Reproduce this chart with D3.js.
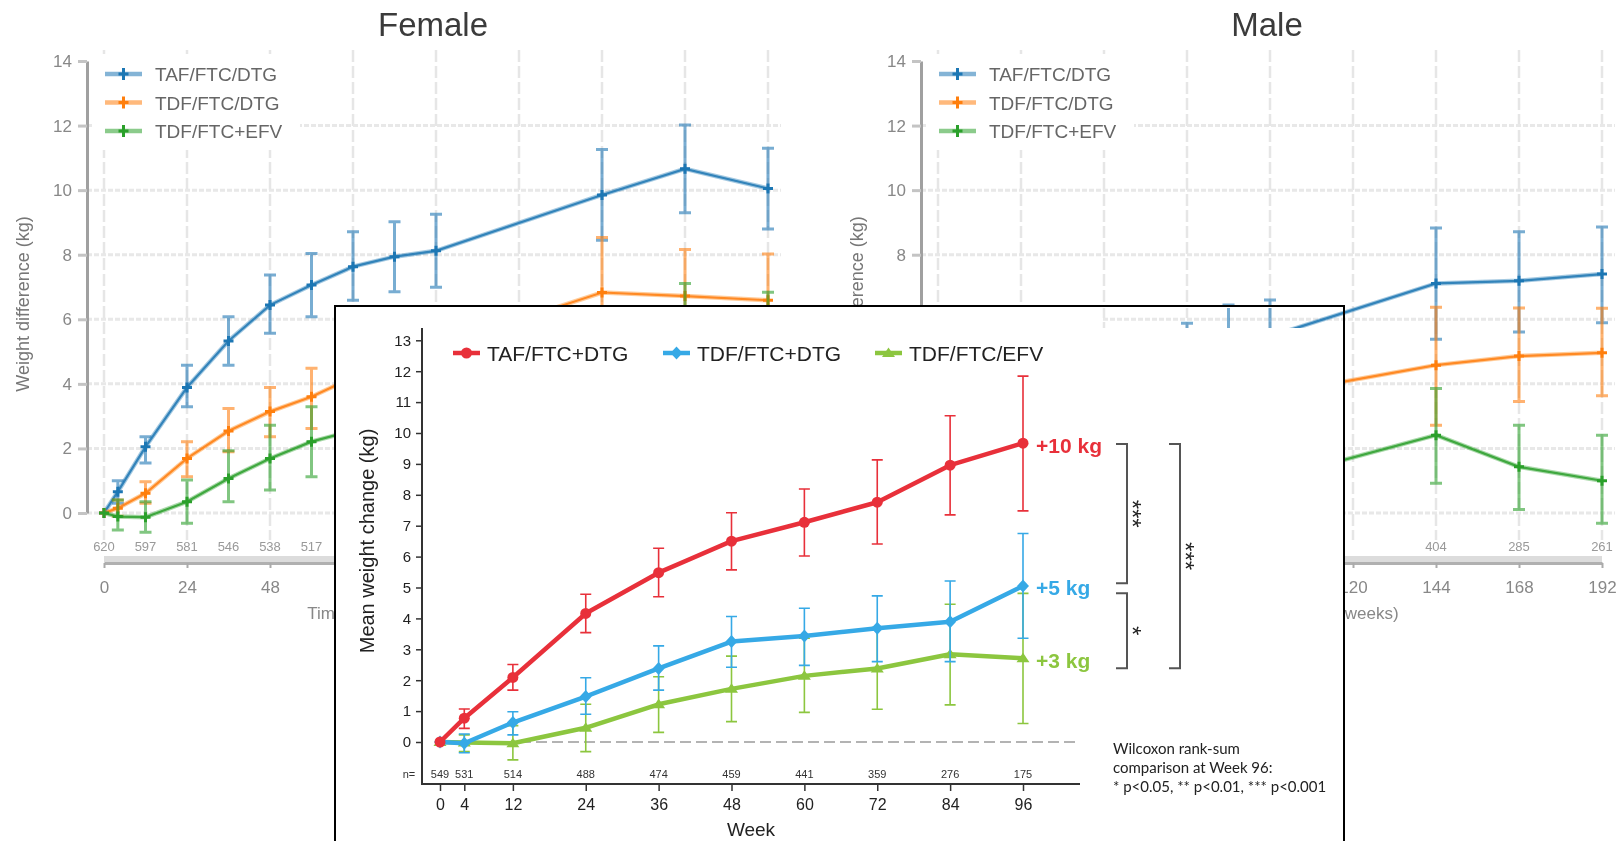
<!DOCTYPE html>
<html>
<head>
<meta charset="utf-8">
<script src="https://cdn.jsdelivr.net/npm/d3@7"></script>
<style>
body { margin: 0; background: #fff; }
svg { display: block; }
</style>
</head>
<body>
<div id="chart"></div>
<script>
// ---- background panels (Female / Male), weeks on treatment ----
var bgWeeks = [0, 4, 12, 24, 36, 48, 60, 72, 84, 96, 144, 168, 192];
var bgTicks = [0, 24, 48, 72, 96, 120, 144, 168, 192];
var bgYTicks = [0, 2, 4, 6, 8, 10, 12, 14];
var bgNWeeks = [0, 12, 24, 36, 48, 60, 72, 84, 96, 144, 168, 192];
var femaleN = [620, 597, 581, 546, 538, 517, 497, 480, 468, 420, 390, 370];
var maleN = [433, 425, 420, 415, 412, 410, 408, 406, 405, 404, 285, 261];
var bgNames = ["TAF/FTC/DTG", "TDF/FTC/DTG", "TDF/FTC+EFV"];
var bgColors = ["#1f77b4", "#ff7f0e", "#2ca02c"];

var femaleTaf   = [0, 0.66, 2.05, 3.89, 5.33, 6.44, 7.06, 7.63, 7.94, 8.12, 9.85, 10.66, 10.05];
var femaleTafLo = [0, 0.30, 1.55, 3.29, 4.58, 5.57, 6.08, 6.59, 6.85, 6.99, 8.45, 9.30, 8.80];
var femaleTafHi = [0, 1.00, 2.36, 4.58, 6.08, 7.37, 8.04, 8.71, 9.02, 9.25, 11.26, 12.02, 11.30];
var femaleTdf   = [0, 0.15, 0.61, 1.69, 2.54, 3.14, 3.60, 4.20, 4.70, 5.15, 6.83, 6.72, 6.59];
var femaleTdfLo = [0, -0.10, 0.30, 1.12, 1.90, 2.36, 2.62, 3.10, 3.50, 3.80, 5.10, 5.25, 5.15];
var femaleTdfHi = [0, 0.40, 0.97, 2.21, 3.24, 3.89, 4.48, 5.30, 5.80, 6.20, 8.53, 8.16, 8.02];
var femaleEfv   = [0, -0.11, -0.13, 0.35, 1.07, 1.69, 2.21, 2.55, 2.85, 3.10, 4.90, 5.60, 5.30];
var femaleEfvLo = [0, -0.53, -0.60, -0.32, 0.35, 0.71, 1.12, 1.40, 1.60, 1.80, 3.40, 4.10, 3.80];
var femaleEfvHi = [0, 0.40, 0.35, 1.02, 1.93, 2.72, 3.29, 3.70, 4.10, 4.40, 6.30, 7.11, 6.84];

var maleTaf   = [0, 0.55, 1.40, 2.50, 3.40, 4.00, 4.45, 4.85, 5.30, 5.47, 7.11, 7.19, 7.40];
var maleTafLo = [0, 0.25, 1.00, 2.00, 2.70, 3.10, 3.40, 3.80, 4.15, 4.35, 5.38, 5.61, 5.89];
var maleTafHi = [0, 0.85, 1.80, 3.00, 4.10, 4.90, 5.50, 5.88, 6.44, 6.60, 8.83, 8.71, 8.86];
var maleTdf   = [0, 0.30, 0.90, 1.60, 2.20, 2.60, 2.90, 3.20, 3.45, 3.66, 4.58, 4.86, 4.96];
var maleTdfLo = [0, 0.00, 0.50, 1.10, 1.60, 1.90, 2.10, 2.30, 2.50, 2.60, 2.72, 3.45, 3.63];
var maleTdfHi = [0, 0.60, 1.30, 2.10, 2.80, 3.30, 3.70, 4.10, 4.40, 4.70, 6.37, 6.35, 6.34];
var maleEfv   = [0, -0.10, 0.00, 0.30, 0.60, 0.80, 0.95, 1.00, 1.05, 1.03, 2.41, 1.43, 1.00];
var maleEfvLo = [0, -0.50, -0.50, -0.30, -0.10, 0.00, 0.10, 0.00, 0.00, -0.10, 0.92, 0.11, -0.32];
var maleEfvHi = [0, 0.30, 0.50, 0.90, 1.30, 1.60, 1.80, 2.00, 2.10, 2.20, 3.86, 2.72, 2.41];

// ---- front panel ----
var weeks = [0, 4, 12, 24, 36, 48, 60, 72, 84, 96];
var nAtRisk = [549, 531, 514, 488, 474, 459, 441, 359, 276, 175];
var yTicks = [0, 1, 2, 3, 4, 5, 6, 7, 8, 9, 10, 11, 12, 13];
var names = ["TAF/FTC+DTG", "TDF/FTC+DTG", "TDF/FTC/EFV"];
var colors = ["#e8303a", "#36a9e6", "#8cc63f"];
var endLabels = ["+10 kg", "+5 kg", "+3 kg"];

var tafDtg   = [0, 0.77, 2.09, 4.16, 5.48, 6.50, 7.11, 7.76, 8.96, 9.67];
var tafDtgLo = [0, 0.44, 1.68, 3.54, 4.70, 5.57, 6.02, 6.41, 7.35, 7.48];
var tafDtgHi = [0, 1.07, 2.51, 4.78, 6.27, 7.42, 8.19, 9.13, 10.56, 11.84];
var tdfDtg   = [0, -0.04, 0.63, 1.47, 2.38, 3.25, 3.43, 3.68, 3.89, 5.05];
var tdfDtgLo = [0, -0.35, 0.23, 0.90, 1.68, 2.42, 2.48, 2.60, 2.60, 3.36];
var tdfDtgHi = [0, 0.26, 0.98, 2.08, 3.11, 4.06, 4.33, 4.73, 5.21, 6.75];
var tdfEfv   = [0, -0.02, -0.04, 0.46, 1.22, 1.72, 2.14, 2.38, 2.84, 2.71];
var tdfEfvLo = [0, -0.31, -0.58, -0.31, 0.31, 0.66, 0.96, 1.06, 1.20, 0.60];
var tdfEfvHi = [0, 0.23, 0.53, 1.22, 2.11, 2.78, 3.36, 3.70, 4.46, 4.81];

// significance brackets at week 96: [top value, bottom value, label, x]
var brackets = [[9.64, 5.14, "***", 1127], [4.81, 2.39, "*", 1127], [9.64, 2.39, "***", 1180]];

var svg = d3.select("#chart").append("svg")
    .attr("width", 1616).attr("height", 841)
    .style("font-family", "'Liberation Sans', Arial, sans-serif");

svg.append("defs").append("filter").attr("id", "soft")
    .append("feGaussianBlur").attr("stdDeviation", 0.6);

function pack(x, v, lo, hi) {
    return x.map(function(d, i) { return {w: d, v: v[i], lo: lo[i], hi: hi[i]}; });
}

// draws one of the blurry background charts, dx shifts it right
function bgPanel(dx, title, series, nVals) {
    var g = svg.append("g").attr("filter", "url(#soft)");
    var x = d3.scaleLinear().domain([0, 192]).range([104 + dx, 768 + dx]);
    var y = d3.scaleLinear().domain([0, 14]).range([513, 61]);

    g.selectAll(".vg").data(bgTicks).enter().append("line")
        .attr("x1", function(d) { return x(d); }).attr("x2", function(d) { return x(d); })
        .attr("y1", 50).attr("y2", 540)
        .attr("stroke", "#e6e6e6").attr("stroke-width", 2.5).attr("stroke-dasharray", "12,4");
    g.selectAll(".hg").data(bgYTicks.slice(0, 7)).enter().append("line")
        .attr("x1", 87 + dx).attr("x2", 781 + dx)
        .attr("y1", function(d) { return y(d); }).attr("y2", function(d) { return y(d); })
        .attr("stroke", "#e8e8e8").attr("stroke-width", 3).attr("stroke-dasharray", "5,2");

    // legend box hides the grid
    g.append("rect").attr("x", 92 + dx).attr("y", 54).attr("width", 208).attr("height", 96).attr("fill", "#fff");

    var yAxis = g.append("g").attr("transform", "translate(" + (87 + dx) + ",0)")
        .call(d3.axisLeft(y).tickValues(bgYTicks).tickSize(9).tickSizeOuter(0).tickPadding(6));
    yAxis.select(".domain").attr("stroke", "#a0a0a0").attr("stroke-width", 3);
    yAxis.selectAll(".tick line").attr("stroke", "#c4c4c4").attr("stroke-width", 3);
    yAxis.selectAll("text").attr("fill", "#888").attr("font-size", 17).attr("font-family", null);

    g.append("rect").attr("x", x(0)).attr("y", 556).attr("width", x(192) - x(0)).attr("height", 6).attr("fill", "#dcdcdc");
    var xAxis = g.append("g").attr("transform", "translate(0,563)")
        .call(d3.axisBottom(x).tickValues(bgTicks).tickSize(5).tickSizeOuter(0).tickPadding(13));
    xAxis.select(".domain").attr("stroke", "#b0b0b0").attr("stroke-width", 3);
    xAxis.selectAll(".tick line").attr("stroke", "#aaa").attr("stroke-width", 2);
    xAxis.selectAll("text").attr("fill", "#888").attr("font-size", 17).attr("font-family", null);

    g.selectAll(".nr").data(bgNWeeks).enter().append("text")
        .attr("x", function(d) { return x(d); }).attr("y", 551)
        .attr("text-anchor", "middle").attr("font-size", 13).attr("fill", "#999")
        .text(function(d, i) { return nVals[i]; });

    var line = d3.line().x(function(d) { return x(d.w); }).y(function(d) { return y(d.v); });
    series.forEach(function(s, k) {
        var c = bgColors[k];
        var sg = g.append("g");
        sg.append("path").datum(s).attr("d", line).attr("fill", "none")
            .attr("stroke", c).attr("stroke-width", 4.5).attr("stroke-opacity", 0.4);
        sg.append("path").datum(s).attr("d", line).attr("fill", "none")
            .attr("stroke", c).attr("stroke-width", 2.2).attr("stroke-opacity", 0.85);
        var eb = sg.selectAll(".eb").data(s.filter(function(d) { return d.w > 0; })).enter().append("g");
        eb.append("path")
            .attr("d", function(d) {
                var cx = x(d.w);
                return "M" + cx + "," + y(d.hi) + "V" + y(d.lo) +
                    "M" + (cx - 6) + "," + y(d.hi) + "H" + (cx + 6) +
                    "M" + (cx - 6) + "," + y(d.lo) + "H" + (cx + 6);
            })
            .attr("fill", "none").attr("stroke", c).attr("stroke-width", 3).attr("stroke-opacity", 0.6);
        sg.selectAll(".mk").data(s).enter().append("path")
            .attr("transform", function(d) { return "translate(" + x(d.w) + "," + y(d.v) + ")"; })
            .attr("d", "M-5,0H5M0,-5V5").attr("stroke", c).attr("stroke-width", 3);
    });

    bgNames.forEach(function(n, i) {
        var ly = 74 + 28.5 * i;
        g.append("line").attr("x1", 105 + dx).attr("x2", 142 + dx).attr("y1", ly).attr("y2", ly)
            .attr("stroke", bgColors[i]).attr("stroke-width", 4.5).attr("stroke-opacity", 0.55);
        g.append("path").attr("transform", "translate(" + (123.5 + dx) + "," + ly + ")")
            .attr("d", "M-5,0H5M0,-6V6").attr("stroke", bgColors[i]).attr("stroke-width", 3);
        g.append("text").attr("x", 155 + dx).attr("y", ly + 7).attr("font-size", 19).attr("fill", "#666").text(n);
    });

    g.append("text").attr("x", 433 + dx).attr("y", 36).attr("text-anchor", "middle")
        .attr("font-size", 33).attr("fill", "#3a3a3a").text(title);
    g.append("text").attr("transform", "translate(" + (29 + dx) + ",304) rotate(-90)")
        .attr("text-anchor", "middle").attr("font-size", 18).attr("fill", "#777")
        .text("Weight difference (kg)");
    g.append("text").attr("x", 436 + dx).attr("y", 619).attr("text-anchor", "middle")
        .attr("font-size", 17).attr("fill", "#888").text("Time since randomisation (weeks)");
}

bgPanel(0, "Female", [
    pack(bgWeeks, femaleTaf, femaleTafLo, femaleTafHi),
    pack(bgWeeks, femaleTdf, femaleTdfLo, femaleTdfHi),
    pack(bgWeeks, femaleEfv, femaleEfvLo, femaleEfvHi)], femaleN);
bgPanel(834, "Male", [
    pack(bgWeeks, maleTaf, maleTafLo, maleTafHi),
    pack(bgWeeks, maleTdf, maleTdfLo, maleTdfHi),
    pack(bgWeeks, maleEfv, maleEfvLo, maleEfvHi)], maleN);

// ---- front panel, white card with a small gap at top right ----
var fg = svg.append("g");
fg.append("path").attr("d", "M335,306H1344V860H335Z M1102,308V328H1343V308Z")
    .attr("fill", "#fff").attr("fill-rule", "evenodd");
fg.append("rect").attr("x", 335).attr("y", 306).attr("width", 1009).attr("height", 560)
    .attr("fill", "none").attr("stroke", "#000").attr("stroke-width", 2);

var xI = d3.scaleLinear().domain([0, 96]).range([440, 1023]);
var yI = d3.scaleLinear().domain([0, 13]).range([742, 340.3]);

var ya = fg.append("g").attr("transform", "translate(422,0)")
    .call(d3.axisLeft(yI).tickValues(yTicks).tickSize(6).tickPadding(5));
ya.select(".domain").remove();
ya.selectAll(".tick line").attr("stroke", "#333").attr("stroke-width", 1.5);
ya.selectAll("text").attr("fill", "#222").attr("font-size", 15).attr("font-family", null);

var xa = fg.append("g").attr("transform", "translate(0,784)")
    .call(d3.axisBottom(xI).tickValues(weeks).tickSize(7).tickPadding(8));
xa.select(".domain").remove();
xa.selectAll(".tick line").attr("stroke", "#333").attr("stroke-width", 1.5);
xa.selectAll("text").attr("fill", "#222").attr("font-size", 16).attr("font-family", null);

fg.append("path").attr("d", "M422,328V784H1080").attr("fill", "none").attr("stroke", "#333").attr("stroke-width", 2);

fg.append("line").attr("x1", xI(0)).attr("x2", 1080).attr("y1", yI(0)).attr("y2", yI(0))
    .attr("stroke", "#b3b3b3").attr("stroke-width", 1.8).attr("stroke-dasharray", "11,5");

fg.append("text").attr("x", 409).attr("y", 778).attr("text-anchor", "middle")
    .attr("font-size", 11).attr("fill", "#333").text("n=");
fg.selectAll(".nn").data(weeks).enter().append("text")
    .attr("x", function(d) { return xI(d); }).attr("y", 778)
    .attr("text-anchor", "middle").attr("font-size", 11).attr("fill", "#333")
    .text(function(d, i) { return nAtRisk[i]; });

fg.append("text").attr("x", 751).attr("y", 836).attr("text-anchor", "middle")
    .attr("font-size", 19).attr("fill", "#222").text("Week");
fg.append("text").attr("transform", "translate(374,541) rotate(-90)")
    .attr("text-anchor", "middle").attr("font-size", 20).attr("fill", "#222")
    .text("Mean weight change (kg)");

var markers = [
    function(s) { s.append("circle").attr("r", 5.5); },
    function(s) { s.append("path").attr("d", "M0,-6.5L6,0L0,6.5L-6,0Z"); },
    function(s) { s.append("path").attr("d", "M0,-5.5L6.5,4L-6.5,4Z"); }
];

var front = [
    pack(weeks, tafDtg, tafDtgLo, tafDtgHi),
    pack(weeks, tdfDtg, tdfDtgLo, tdfDtgHi),
    pack(weeks, tdfEfv, tdfEfvLo, tdfEfvHi)
];
var lineI = d3.line().x(function(d) { return xI(d.w); }).y(function(d) { return yI(d.v); });

// green first so red ends up on top
[2, 1, 0].forEach(function(k) {
    var s = front[k], c = colors[k];
    var sg = fg.append("g");
    sg.selectAll(".eb").data(s.filter(function(d) { return d.w > 0; })).enter().append("path")
        .attr("d", function(d) {
            var cx = xI(d.w);
            return "M" + cx + "," + yI(d.hi) + "V" + yI(d.lo) +
                "M" + (cx - 5.5) + "," + yI(d.hi) + "H" + (cx + 5.5) +
                "M" + (cx - 5.5) + "," + yI(d.lo) + "H" + (cx + 5.5);
        })
        .attr("fill", "none").attr("stroke", c).attr("stroke-width", 1.6);
    sg.append("path").datum(s).attr("d", lineI).attr("fill", "none")
        .attr("stroke", c).attr("stroke-width", 4.5).attr("stroke-linejoin", "round");
    sg.selectAll(".mk").data(s).enter().append("g")
        .attr("transform", function(d) { return "translate(" + xI(d.w) + "," + yI(d.v) + ")"; })
        .attr("fill", c)
        .each(function() { markers[k](d3.select(this)); });
    var last = s[s.length - 1];
    sg.append("text").attr("x", xI(last.w) + 13).attr("y", yI(last.v) + 9.5)
        .attr("font-size", 21).attr("font-weight", "bold").attr("fill", c).text(endLabels[k]);
});

// legend
var legX = [453, 663, 875];
names.forEach(function(n, i) {
    var lg = fg.append("g").attr("transform", "translate(" + legX[i] + ",353)");
    lg.append("line").attr("x1", 0).attr("x2", 27).attr("stroke", colors[i]).attr("stroke-width", 4.5);
    var m = lg.append("g").attr("transform", "translate(13.5,0)").attr("fill", colors[i]);
    markers[i](m);
    lg.append("text").attr("x", 34).attr("y", 7.5).attr("font-size", 21).attr("fill", "#222").text(n);
});

// brackets with stars (stars rotated, glyph sits above baseline so shift left a bit)
brackets.forEach(function(b) {
    var x2 = b[3], y1 = yI(b[0]), y2 = yI(b[1]);
    fg.append("path").attr("d", "M" + (x2 - 11) + "," + y1 + "H" + x2 + "V" + y2 + "H" + (x2 - 11))
        .attr("fill", "none").attr("stroke", "#555").attr("stroke-width", 2);
    fg.append("text").attr("transform", "translate(" + (x2 - 3) + "," + ((y1 + y2) / 2) + ") rotate(90)")
        .attr("text-anchor", "middle").attr("font-size", 24).attr("fill", "#222").text(b[2]);
});

var note = ["Wilcoxon rank-sum", "comparison at Week 96:", "* p<0.05, ** p<0.01, *** p<0.001"];
fg.selectAll(".note").data(note).enter().append("text")
    .attr("x", 1113).attr("y", function(d, i) { return 754 + 19 * i; })
    .attr("font-family", "Lato, 'Open Sans', sans-serif").attr("font-size", 15).attr("fill", "#222")
    .text(function(d) { return d; });
</script>
</body>
</html>
